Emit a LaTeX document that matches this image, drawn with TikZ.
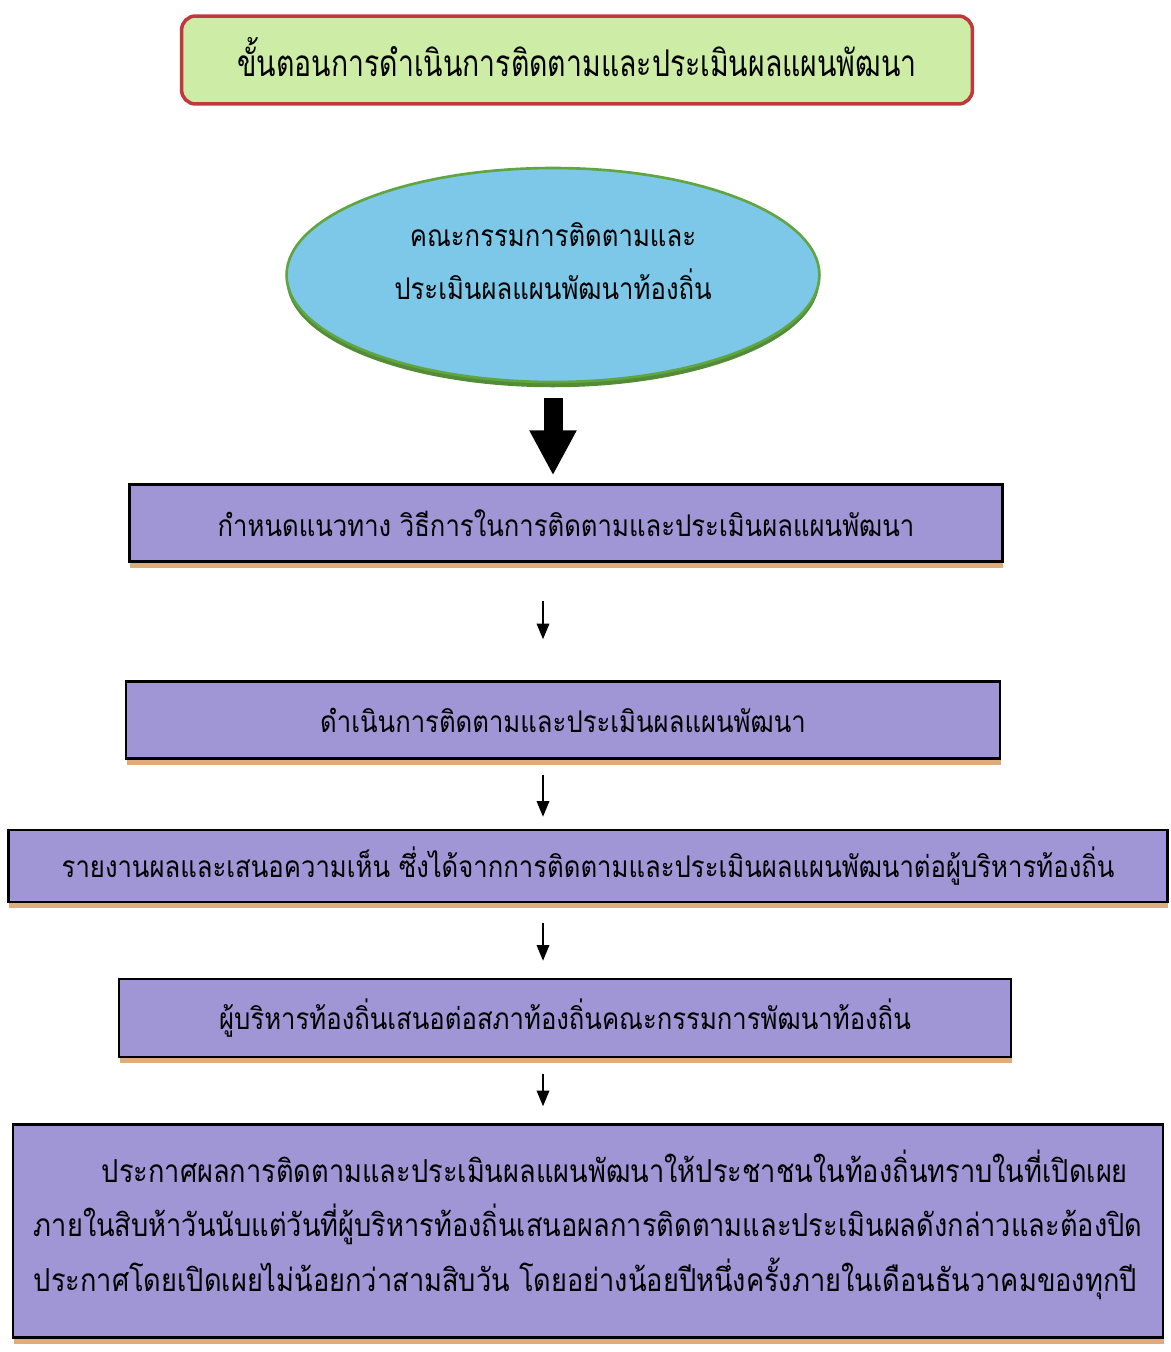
\documentclass[tikz,border=0pt]{standalone}
\usepackage{fontspec}
\setmainfont[Script=Thai,FakeStretch=0.86]{Loma}
\newfontfamily\titlefont[Script=Thai,FakeStretch=0.77]{Loma}
\usepackage{tikz}
\definecolor{stepviolet}{RGB}{160,150,214}
\definecolor{stepshadow}{RGB}{224,172,122}
\definecolor{titlegreen}{RGB}{205,236,165}
\definecolor{titlered}{RGB}{190,56,60}
\definecolor{commblue}{RGB}{125,200,232}
\definecolor{commgreen}{RGB}{96,165,64}
\usetikzlibrary{shadows,arrows.meta,positioning,shapes.geometric}

\tikzset{
    stepbox/.style={rectangle, draw=black, line width=1.3pt, fill=stepviolet,
        minimum height=1.54cm, font=\fontsize{17}{20}\selectfont,
        drop shadow={shadow xshift=0.5pt, shadow yshift=-3.5pt, fill=stepshadow, opacity=1}},
    flowarrow/.style={-{Triangle[length=9pt,width=7pt]}, line width=1.4pt}
}

\begin{document}
\begin{tikzpicture}[x=0.02cm, y=-0.02cm]
    \useasboundingbox (0,0) rectangle (1170,1352);

    % Title
    \node[rectangle, rounded corners=8pt, draw=titlered, line width=2pt, fill=titlegreen,
        minimum width=15.82cm, minimum height=1.76cm, text depth=0.12cm,
        font=\titlefont\fontsize{21}{24}\selectfont]
        (title) at (577, 60) {ขั้นตอนการดำเนินการติดตามและประเมินผลแผนพัฒนา};

    % Committee
    \node[ellipse, draw=commgreen, line width=1.5pt, fill=commblue,
        minimum width=10.66cm, minimum height=4.28cm, align=center, text depth=0.55cm,
        font=\fontsize{17}{30}\selectfont,
        drop shadow={shadow xshift=0pt, shadow yshift=-3pt, fill=commgreen!85!black, opacity=1}]
        (comm) at (553, 275) {คณะกรรมการติดตามและ\\ประเมินผลแผนพัฒนาท้องถิ่น};

    % Steps
    \node[stepbox, minimum width=17.46cm] (guide) at (566, 523)
        {กำหนดแนวทาง วิธีการในการติดตามและประเมินผลแผนพัฒนา};
    \node[stepbox, minimum width=17.48cm] (act) at (563, 720)
        {ดำเนินการติดตามและประเมินผลแผนพัฒนา};
    \node[stepbox, minimum width=23.18cm, minimum height=1.44cm] (report) at (588, 866)
        {รายงานผลและเสนอความเห็น ซึ่งได้จากการติดตามและประเมินผลแผนพัฒนาต่อผู้บริหารท้องถิ่น};
    \node[stepbox, minimum width=17.84cm, minimum height=1.56cm] (council) at (565, 1018)
        {ผู้บริหารท้องถิ่นเสนอต่อสภาท้องถิ่นคณะกรรมการพัฒนาท้องถิ่น};
    \node[stepbox, minimum width=23cm, minimum height=4.26cm, align=left, text depth=0.42cm,
        font=\fontsize{18}{31}\selectfont] (announce) at (588, 1231)
        {\hspace*{1.36cm}ประกาศผลการติดตามและประเมินผลแผนพัฒนาให้ประชาชนในท้องถิ่นทราบในที่เปิดเผย\\
        ภายในสิบห้าวันนับแต่วันที่ผู้บริหารท้องถิ่นเสนอผลการติดตามและประเมินผลดังกล่าวและต้องปิด\\
        ประกาศโดยเปิดเผยไม่น้อยกว่าสามสิบวัน โดยอย่างน้อยปีหนึ่งครั้งภายในเดือนธันวาคมของทุกปี};

    % Flow
    \coordinate (axis) at (543, 0);
    \draw[-{Triangle[length=0.9cm,width=0.88cm]}, line width=0.38cm, shorten <=0.3cm, shorten >=0.16cm]
        (comm.south) -- (comm.south |- guide.north);
    \draw[flowarrow, shorten <=0.76cm, shorten >=0.82cm] (guide.south -| axis) -- (act.north -| axis);
    \draw[flowarrow, shorten <=0.3cm, shorten >=0.24cm] (act.south -| axis) -- (report.north -| axis);
    \draw[flowarrow, shorten <=0.4cm, shorten >=0.34cm] (report.south -| axis) -- (council.north -| axis);
    \draw[flowarrow, shorten <=0.32cm, shorten >=0.34cm] (council.south -| axis) -- (announce.north -| axis);
\end{tikzpicture}
\end{document}
